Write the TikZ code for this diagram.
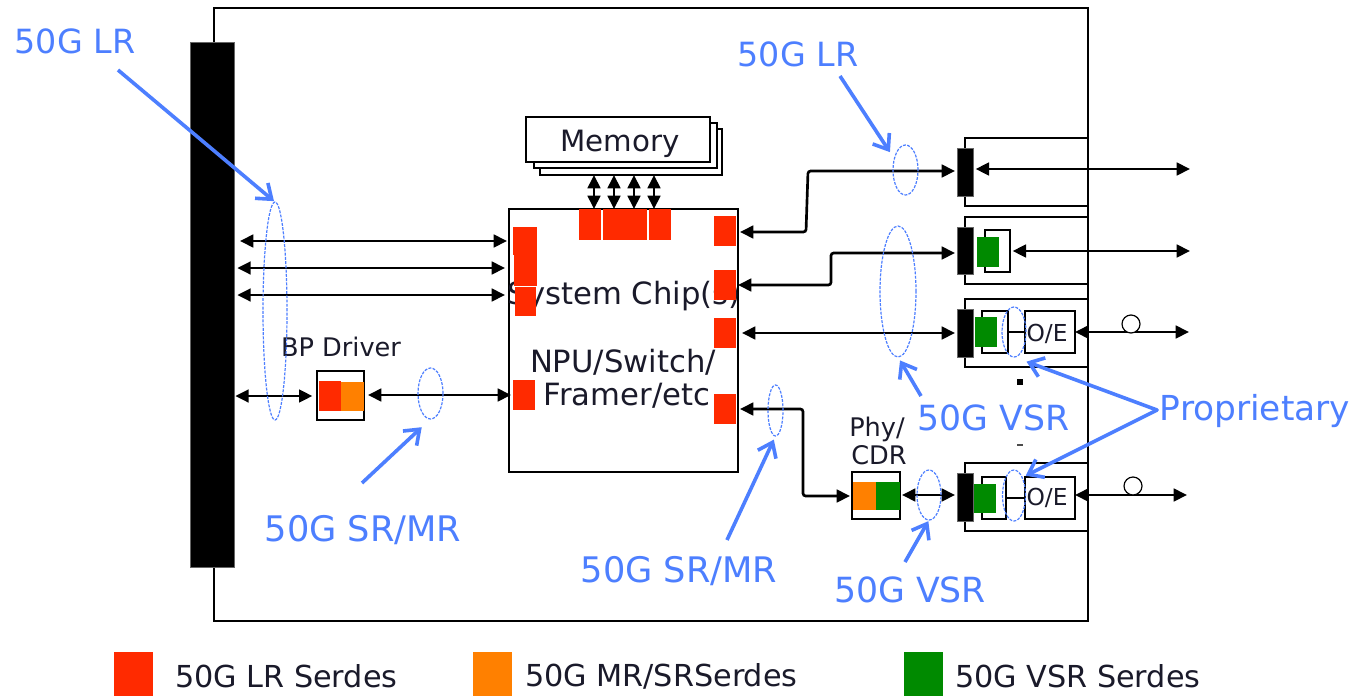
\documentclass[tikz,border=0pt]{standalone}
\usepackage{fontspec}
\setmainfont{DejaVu Sans}
\usetikzlibrary{arrows.meta,shapes.geometric}
\definecolor{serred}{HTML}{FF2A00}
\definecolor{serorange}{HTML}{FF8000}
\definecolor{sergreen}{HTML}{008A00}
\definecolor{callout}{HTML}{4D7FFF}
\definecolor{ink}{HTML}{1A1A2A}
\newcommand{\rectnode}[6]{%
  \node[#6,minimum width={(#4-#2)*0.75pt},minimum height={(#5-#3)*0.75pt}] (#1) at ({(#2+#4)/2},{(#3+#5)/2}) {};}
\tikzset{
  every node/.style={inner sep=0pt,outer sep=0pt},
  plain/.style={draw=black,line width=1.1pt,fill=white},
  blackblk/.style={fill=black,draw=black!60,line width=.4pt},
  rd/.style={fill=serred},
  og/.style={fill=serorange},
  gn/.style={fill=sergreen},
  oval/.style={ellipse,draw=callout,line width=.9pt,dashed,dash pattern=on 2.2pt off 1pt},
  dbl/.style={{Triangle[length=10pt,width=9.5pt]}-{Triangle[length=10pt,width=9.5pt]},line width=2pt,black},
  bl/.style={-{Straight Barb[length=10pt,width=15pt]},line width=2.7pt,callout},
  lab/.style={text=callout,font=\fontsize{25}{30}\selectfont},
  labw/.style={text=callout,font=\fontsize{26.4}{30}\selectfont},
  big/.style={text=ink,font=\fontsize{23}{28}\selectfont},
  small/.style={text=ink,font=\fontsize{19.2}{22}\selectfont},
  oetxt/.style={text=ink,font=\fontsize{17.5}{20}\selectfont},
  leg/.style={text=ink,font=\fontsize{22.7}{27}\selectfont,anchor=west},
}
\begin{document}
\begin{tikzpicture}[x=0.75pt,y=-0.75pt]
\useasboundingbox (0,0) rectangle (1352,696);
\fill[white] (0,0) rectangle (1352,696);
% board
\rectnode{board}{214}{8}{1088}{621}{plain}
\rectnode{bar}{190}{42}{234}{567}{blackblk}
% memory stack
\rectnode{memc}{540}{129}{722}{175}{plain}
\rectnode{memb}{534}{123}{717}{168}{plain}
\rectnode{mema}{526}{117}{710}{162}{plain}
\node[big,font=\fontsize{22}{26}\selectfont] (memtxt) at (620,144) {Memory};
% chip
\rectnode{chip}{509}{209}{738}{472}{plain}
\node[big] (chiptxt) at (624,296) {System Chip(s)};
\node[big] (chiptxtb) at (623,362) {NPU/Switch/};
\node[big] (chiptxtc) at (627,396) {Framer/etc};
\rectnode{rt1}{579}{209}{601}{240}{rd}
\rectnode{rt2}{603}{209}{647}{240}{rd}
\rectnode{rt3}{649}{209}{671}{240}{rd}
\rectnode{rl1}{513}{227}{537}{255}{rd}
\rectnode{rl2}{514}{255}{537}{286}{rd}
\rectnode{rl3}{515}{287}{536}{316}{rd}
\rectnode{rl4}{513}{380}{535}{410}{rd}
\rectnode{rr1}{714}{216}{736}{246}{rd}
\rectnode{rr2}{714}{270}{736}{300}{rd}
\rectnode{rr3}{714}{318}{736}{348}{rd}
\rectnode{rr4}{714}{394}{736}{424}{rd}
% BP driver
\node[small] (bptxt) at (341,347) {BP Driver};
\rectnode{bp}{317}{371}{364}{420}{plain}
\rectnode{bpr}{319}{381}{341}{411}{rd}
\rectnode{bpo}{341}{382}{364}{411}{og}
% Phy
\node[small] (phytxt) at (877,429) {Phy/};
\node[small] (cdrtxt) at (879,455) {CDR};
\rectnode{phy}{852}{472}{900}{519}{plain}
\rectnode{phyo}{853}{482}{876}{510}{og}
\rectnode{phyg}{876}{482}{900}{510}{gn}
% modules
\draw[line width=1.1pt] (1088,138) -| (965,206) -- (1088,206);
\rectnode{fr2}{965}{217}{1088}{284}{plain}
\rectnode{fr3}{965}{299}{1088}{367}{plain}
\rectnode{fr4}{965}{463}{1088}{531}{plain}
\draw[line width=1.1pt] (board.north east) -- (board.south east);
\rectnode{bk1}{957}{148}{973}{196}{blackblk}
\rectnode{bk2}{957}{227}{973}{274}{blackblk}
\rectnode{bk3}{957}{309}{973}{357}{blackblk}
\rectnode{bk4}{957}{473}{973}{521}{blackblk}
\rectnode{in2}{985}{230}{1010}{272}{plain}
\rectnode{gr2}{977}{237}{999}{267}{gn}
\rectnode{in3}{982}{311}{1008}{353}{plain}
\rectnode{gr3}{975}{317}{997}{347}{gn}
\rectnode{in4}{982}{477}{1006}{519}{plain}
\rectnode{gr4}{974}{484}{996}{513}{gn}
\rectnode{oe3}{1025}{311}{1075}{353}{plain}
\rectnode{oe4}{1025}{477}{1075}{519}{plain}
\node[oetxt] (oetxt3) at (1047,334) {O/E};
\node[oetxt] (oetxt4) at (1047,498) {O/E};
\rectnode{dot1}{1017}{379}{1023}{385}{fill=black}
\rectnode{dot2}{1017}{444}{1023}{446}{fill=black!70}
\draw[line width=1.1pt] (in3.east |- oe3.west) -- (oe3.west);
\draw[line width=1.1pt] (in4.east |- oe4.west) -- (oe4.west);
% free ends
\coordinate (endA) at (1190,169);
\coordinate (endB) at (1190,251);
\coordinate (endC) at (1189,332);
\coordinate (endD) at (1187,495);
\coordinate (y1) at (0,241);
\coordinate (y2) at (0,268);
\coordinate (y3) at (0,295);
\coordinate (y4) at (0,396);
\coordinate (y5) at (0,395);
\coordinate (y6) at (0,495);
\coordinate (mx1) at (594,0);
\coordinate (mx2) at (614,0);
\coordinate (mx3) at (634,0);
\coordinate (mx4) at (654,0);
% memory arrows
\draw[dbl] (mx1 |- memc.south) -- (mx1 |- chip.north);
\draw[dbl] (mx2 |- memc.south) -- (mx2 |- chip.north);
\draw[dbl] (mx3 |- memc.south) -- (mx3 |- chip.north);
\draw[dbl] (mx4 |- memc.south) -- (mx4 |- chip.north);
% backplane lanes
\draw[dbl,shorten <=4.5pt,shorten >=1.5pt] (bar.east |- y1) -- (chip.west |- y1);
\draw[dbl,shorten <=2.5pt,shorten >=3pt] (bar.east |- y2) -- (chip.west |- y2);
\draw[dbl,shorten <=2.5pt,shorten >=3pt] (bar.east |- y3) -- (chip.west |- y3);
\draw[dbl,shorten <=1pt,shorten >=3.5pt] (bar.east |- y4) -- (bp.west |- y4);
\draw[dbl,shorten <=3pt,shorten >=1.5pt] (bp.east |- y5) -- (rl4.west |- y5);
% right side lanes
\draw[dbl,rounded corners=2pt,shorten <=1.5pt,shorten >=1.5pt] (chip.east |- 0,232) -- (806,232) -- (808,171) -- (bk1.west |- 0,171);
\draw[dbl,rounded corners=2pt,shorten >=1.5pt] (chip.east |- 0,285) -- (831,285) -- (831,253) -- (bk2.west |- 0,253);
\draw[dbl,shorten <=3pt,shorten >=1.5pt] (chip.east |- bk3.west) -- (bk3.west);
\draw[dbl,rounded corners=2pt,shorten <=1.5pt,shorten >=1.5pt] (chip.east |- 0,409) -- (803,409) -- (803,496) -- (phy.west |- 0,496);
\draw[dbl,shorten <=1.5pt,shorten >=1.5pt] (phy.east |- y6) -- (bk4.west |- y6);
\draw[dbl,shorten <=2pt] (bk1.east |- endA) -- (endA);
\draw[dbl,shorten <=2pt] (in2.east |- endB) -- (endB);
\draw[dbl] (oe3.east) -- (endC);
\draw[dbl] (oe4.east |- endD) -- (endD);
\node[circle,draw=black,line width=.9pt,fill=white,minimum size={18*0.75pt}] (c3) at (1131,324) {};
\node[circle,draw=black,line width=.9pt,fill=white,minimum size={18*0.75pt}] (c4) at (1133,486) {};
% ovals
\node[oval,minimum width={24*0.75pt},minimum height={218*0.75pt}] (ovA) at (275,311) {};
\node[oval,minimum width={25*0.75pt},minimum height={51*0.75pt}] (ovB) at (430.5,393.5) {};
\node[oval,minimum width={25*0.75pt},minimum height={50*0.75pt}] (ovC) at (905.5,170) {};
\node[oval,minimum width={36*0.75pt},minimum height={131*0.75pt}] (ovD) at (898,291.5) {};
\node[oval,minimum width={24*0.75pt},minimum height={50*0.75pt}] (ovE) at (1014,332) {};
\node[oval,minimum width={23*0.75pt},minimum height={51*0.75pt}] (ovF) at (1014,495.5) {};
\node[oval,minimum width={24*0.75pt},minimum height={50*0.75pt}] (ovG) at (929,495) {};
\node[oval,minimum width={15*0.75pt},minimum height={51*0.75pt}] (ovH) at (775.5,410.5) {};
% callout labels
\node[lab] (lA) at (75,41) {50G LR};
\node[lab] (lB) at (798,54) {50G LR};
\node[labw,font=\fontsize{26}{30}\selectfont] (lC) at (993.5,418) {50G VSR};
\node[labw] (lD) at (363,530) {50G SR/MR};
\node[labw] (lE) at (679,571) {50G SR/MR};
\node[labw,font=\fontsize{26}{30}\selectfont] (lF) at (910,590) {50G VSR};
\node[labw,font=\fontsize{25.8}{30}\selectfont] (lG) at (1255,411) {Proprietary};
\coordinate (tA) at (118,70);
\coordinate (tB) at (840,76);
\coordinate (tC) at (921,396);
\coordinate (tD) at (362,483);
\coordinate (tE) at (727,540);
\coordinate (tF) at (905,562);
\coordinate (tG) at (1157,410);
\draw[bl,shorten >=1pt] (tA) -- (ovA.north);
\draw[bl,shorten >=6pt] (tB) -- (ovC.135);
\draw[bl,shorten >=3pt] (tC) -- (ovD.south);
\draw[bl,shorten >=9pt] (tD) -- (ovB.south);
\draw[bl,shorten >=3pt] (tE) -- (ovH.south);
\draw[bl,shorten >=1pt] (tF) -- (ovG.south);
\draw[bl,line cap=round,shorten >=10pt] (tG) -- (ovE.south);
\draw[bl,line cap=round,shorten >=3pt] (tG) -- (ovF.north east);
% legend
\rectnode{k1}{114}{652}{153}{696}{rd}
\rectnode{k2}{473}{652}{512}{696}{og}
\rectnode{k3}{904}{652}{943}{696}{gn}
\node[leg] (t1) at (175,676) {50G LR Serdes};
\node[leg] (t2) at (525,676) {50G MR/SRSerdes};
\node[leg] (t3) at (955,676) {50G VSR Serdes};
\end{tikzpicture}
\end{document}
